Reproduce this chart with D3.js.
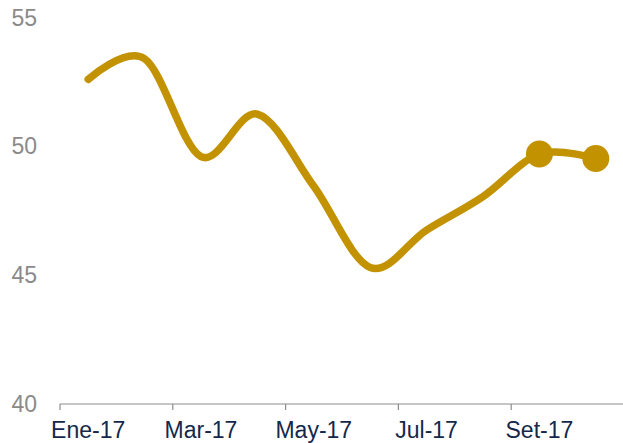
<!DOCTYPE html>
<html>
<head>
<meta charset="utf-8">
<script src="https://cdn.jsdelivr.net/npm/d3@7"></script>
<style>
  html, body { margin: 0; padding: 0; background: #fff; }
  svg { display: block; }
</style>
</head>
<body>
<svg id="chart" width="623" height="443"></svg>
<script>
// Monthly index, Jan–Oct 2017
const months = ["Ene-17", "Feb-17", "Mar-17", "Abr-17", "May-17", "Jun-17",
                "Jul-17", "Ago-17", "Set-17", "Oct-17"];
const values = [52.6, 53.4, 49.6, 51.25, 48.45, 45.3, 46.75, 48.05, 49.7, 49.53];
const yTicks = [40, 45, 50, 55];
const xTickLabels = ["Ene-17", "Mar-17", "May-17", "Jul-17", "Set-17"];
const markedMonths = ["Set-17", "Oct-17"];

const W = 623, H = 443;
const svg = d3.select("#chart");

const x = d3.scaleBand().domain(months).range([60, 624]).paddingInner(0).paddingOuter(0);
const y = d3.scaleLinear().domain([40, 55]).range([404, 17.5]);

const fontFamily = "'Liberation Sans', Arial, sans-serif";

// y-axis labels (no line)
svg.append("g")
  .selectAll("text")
  .data(yTicks)
  .join("text")
  .attr("x", 37)
  .attr("y", d => y(d))
  .attr("dy", "0.35em")
  .attr("text-anchor", "end")
  .attr("font-family", fontFamily)
  .attr("font-size", 23)
  .attr("fill", "#8a8a8a")
  .text(d => d);

// x-axis: baseline plus ticks at every other band boundary
const axisG = svg.append("g").attr("transform", `translate(0,${y(40)})`);
axisG.append("line")
  .attr("x1", x.range()[0]).attr("x2", W)
  .attr("stroke", "#8c8c8c").attr("stroke-width", 1.2);
axisG.selectAll("line.tick")
  .data(xTickLabels)
  .join("line")
  .attr("class", "tick")
  .attr("x1", d => x(d)).attr("x2", d => x(d))
  .attr("y1", 0).attr("y2", 6)
  .attr("stroke", "#8c8c8c").attr("stroke-width", 1.2);
axisG.selectAll("text")
  .data(xTickLabels)
  .join("text")
  .attr("x", d => x(d) + x.bandwidth() / 2)
  .attr("y", 34)
  .attr("text-anchor", "middle")
  .attr("font-family", fontFamily)
  .attr("font-size", 23)
  .attr("fill", "#14284b")
  .text(d => d);

// series line
const data = months.map((m, i) => ({ m, v: values[i] }));
const cx = d => x(d.m) + x.bandwidth() / 2;
const line = d3.line()
  .x(cx)
  .y(d => y(d.v))
  .curve(d3.curveCardinal.tension(0));

const gold = "#c29200";
svg.append("path")
  .datum(data)
  .attr("d", line)
  .attr("fill", "none")
  .attr("stroke", gold)
  .attr("stroke-width", 7.5)
  .attr("stroke-linecap", "round")
  .attr("stroke-linejoin", "round");

// highlighted last two months
svg.append("g")
  .selectAll("circle")
  .data(data.filter(d => markedMonths.includes(d.m)))
  .join("circle")
  .attr("cx", cx)
  .attr("cy", d => y(d.v))
  .attr("r", 13.5)
  .attr("fill", gold);
</script>
</body>
</html>
